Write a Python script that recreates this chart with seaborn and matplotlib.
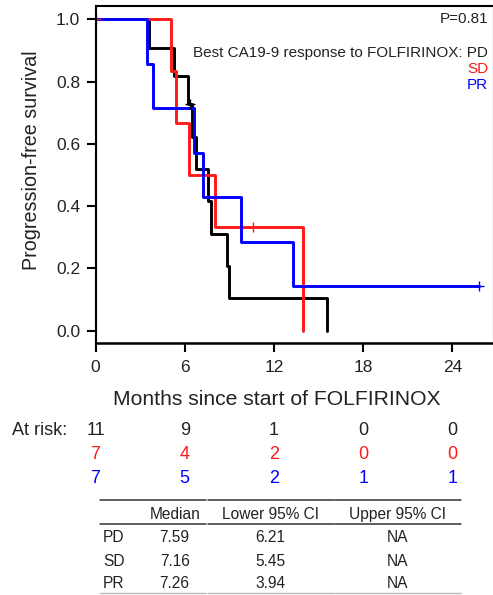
import numpy as np
import pandas as pd
import matplotlib
matplotlib.use("Agg")
import matplotlib.pyplot as plt
import seaborn as sns

# Follow-up (months) and event flags (1 = progression, 0 = censored) per CA19-9 response group
pd_time = [3.60, 5.30, 6.24, 6.35, 6.47, 6.77, 7.59, 7.74, 8.82, 8.96, 15.54]
pd_event = [1, 1, 1, 0, 1, 1, 1, 1, 1, 1, 1]
sd_time = [0.0, 5.06, 5.41, 6.27, 8.05, 10.61, 13.97]
sd_event = [0, 1, 1, 1, 1, 0, 1]
pr_time = [3.44, 3.89, 6.60, 7.26, 9.76, 13.30, 25.78]
pr_event = [1, 1, 1, 1, 1, 1, 0]

groups = ["PD", "SD", "PR"]
colors = {"PD": "black", "SD": "#ff1a1a", "PR": "#0000ff"}

# Numbers at risk at 0, 6, 12, 18, 24 months
risk_times = [0, 6, 12, 18, 24]
risk_pd = [11, 9, 1, 0, 0]
risk_sd = [7, 4, 2, 0, 0]
risk_pr = [7, 5, 2, 1, 1]

# Median PFS summary table
table_cols = ["Median", "Lower 95% CI", "Upper 95% CI"]
median_vals = ["7.59", "7.16", "7.26"]
lower_vals = ["6.21", "5.45", "3.94"]
upper_vals = ["NA", "NA", "NA"]

p_text = "P=0.81"


def km_steps(times, events):
    t = np.asarray(times, float)
    e = np.asarray(events, int)
    n = len(t)
    s = 1.0
    xs, ys, cx, cy = [0.0], [1.0], [], []
    for ut in np.unique(t):
        d = int(((t == ut) & (e == 1)).sum())
        c = int(((t == ut) & (e == 0)).sum())
        if d:
            s *= 1 - d / n
            xs.append(ut)
            ys.append(s)
        if c:
            cx.append(ut)
            cy.append(s)
        n -= d + c
    if xs[-1] < t.max():
        xs.append(t.max())
        ys.append(s)
    return xs, ys, cx, cy


data = {"PD": (pd_time, pd_event), "SD": (sd_time, sd_event), "PR": (pr_time, pr_event)}
rows, marks = [], {}
for g in groups:
    xs, ys, cx, cy = km_steps(*data[g])
    rows += [{"t": x, "S": y, "group": g} for x, y in zip(xs, ys)]
    marks[g] = (cx, cy)
curves = pd.DataFrame(rows)

sns.set_style("ticks")
plt.rcParams["font.family"] = ["Liberation Sans", "DejaVu Sans"]
plt.rcParams["text.color"] = "#222222"

W, H = 493, 595
fig = plt.figure(figsize=(W / 100, H / 100), dpi=100)
ax = fig.add_axes([95.5 / W, (H - 343) / H, (492.5 - 95.5) / W, (343 - 6) / H])


def ftext(x, y, s, **kw):
    fig.text(x / W, 1 - y / H, s, **kw)


sns.lineplot(data=curves, x="t", y="S", hue="group", hue_order=groups,
             palette=colors, estimator=None, drawstyle="steps-post",
             linewidth=2.1, legend=False, ax=ax)
for g in groups:
    cx, cy = marks[g]
    ax.plot(cx, cy, ls="none", marker="+", ms=7.5, mew=1.0, color=colors[g])

ax.set_xlim(0, 26.69)
ax.set_ylim(-0.040, 1.0434)
ax.set_xticks([0, 6, 12, 18, 24])
ax.set_yticks([0.0, 0.2, 0.4, 0.6, 0.8, 1.0])
ax.set_yticklabels([f"{v:.1f}" for v in [0.0, 0.2, 0.4, 0.6, 0.8, 1.0]])
ax.set_xlabel("")
ax.set_ylabel("")
ax.tick_params(direction="out", length=6.5, width=1.5, labelsize=12.5,
               color="black", labelcolor="#222222")
ax.tick_params(axis="x", pad=6)
ax.tick_params(axis="y", pad=4.5)
for side in ["left", "top"]:
    ax.spines[side].set_linewidth(1.5)
    ax.spines[side].set_color("black")
ax.spines["bottom"].set_linewidth(1.8)
ax.spines["bottom"].set_color("black")
ax.spines["right"].set_visible(True)
ax.spines["right"].set_linewidth(1.0)
ax.spines["right"].set_color("#cccccc")

# Annotations inside the plot
ftext(488.3, 22.7, p_text, ha="right", va="baseline", fontsize=11)
ftext(488.3, 56.7, "Best CA19-9 response to FOLFIRINOX: PD", ha="right", va="baseline", fontsize=11)
ftext(488.3, 72.7, "SD", ha="right", va="baseline", fontsize=11, color=colors["SD"])
ftext(488.3, 89.3, "PR", ha="right", va="baseline", fontsize=11, color=colors["PR"])

# Axis titles
ftext(276.7, 405, "Months since start of FOLFIRINOX", ha="center", va="baseline", fontsize=15.2)
ftext(32, 160, "Progression-free survival", ha="center", va="center", rotation=90, fontsize=14.2)

# Numbers at risk, aligned with the time axis
from matplotlib import transforms
blend = transforms.blended_transform_factory(ax.transData, fig.transFigure)
ftext(11.7, 435, "At risk:", ha="left", va="baseline", fontsize=13)
for vals, base, col in [(risk_pd, 435, "#222222"), (risk_sd, 459, colors["SD"]),
                        (risk_pr, 483.3, colors["PR"])]:
    for t, v in zip(risk_times, vals):
        fig.text(t, 1 - base / H, str(v), transform=blend, ha="center",
                 va="baseline", fontsize=13, color=col)

# Median PFS table
col_x = [174.7, 270, 397.7]
ftext(103, 519, "", fontsize=11)
for x, lab in zip(col_x, table_cols):
    ftext(x, 519, lab, ha="center", va="baseline", fontsize=11.2)
for i, (g, m, lo, up) in enumerate(zip(groups, median_vals, lower_vals, upper_vals)):
    base = [541.7, 565.7, 588.3][i]
    ftext(103, base, g, ha="left", va="baseline", fontsize=11.2)
    for x, v in zip(col_x, [m, lo, up]):
        ftext(x, base, v, ha="center", va="baseline", fontsize=11.2)

segs = [(100, 206), (207.5, 333.5), (335, 461)]
for y, col, lw in [(500, "#333333", 1.1), (524.3, "#333333", 1.1), (593.3, "#bbbbbb", 1.0)]:
    for x0, x1 in segs:
        fig.add_artist(plt.Line2D([x0 / W, x1 / W], [1 - y / H, 1 - y / H],
                                  transform=fig.transFigure, color=col, lw=lw))

fig.savefig("out.png", dpi=100)
